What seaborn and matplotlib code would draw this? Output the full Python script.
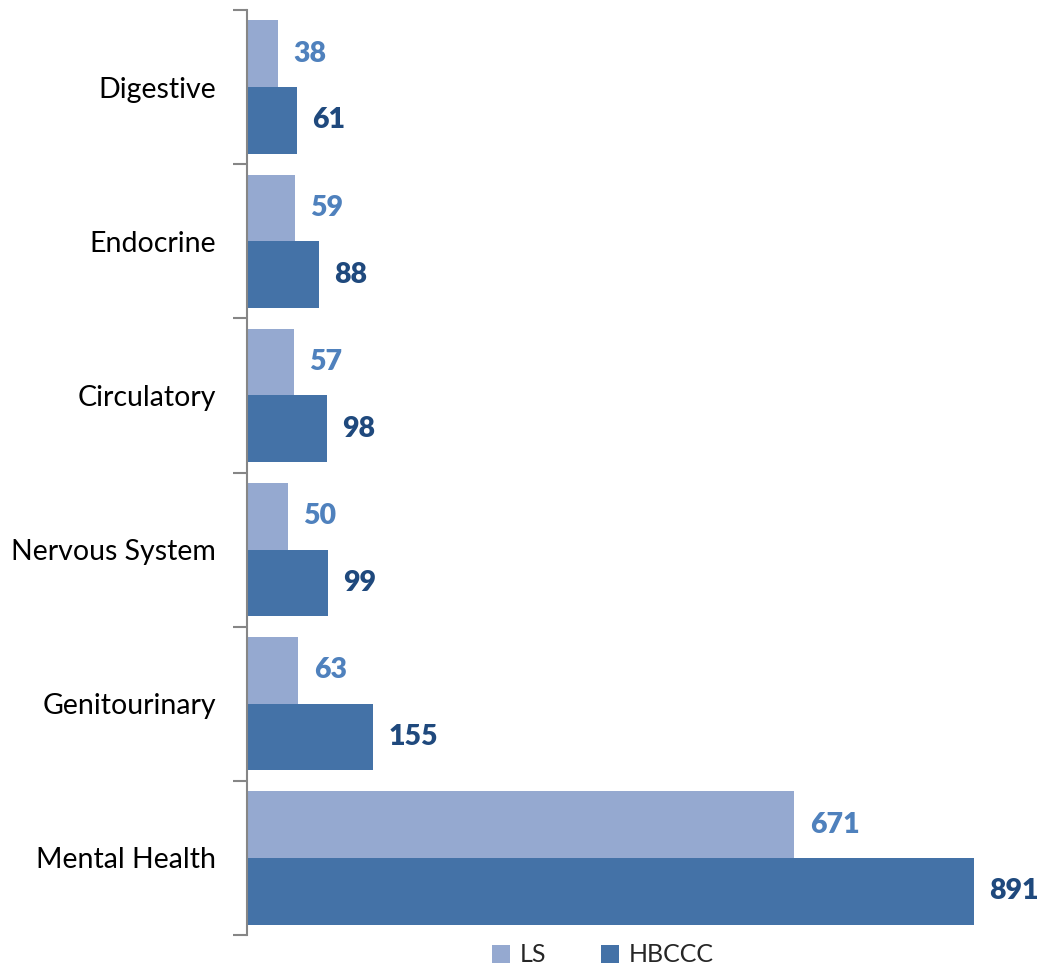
import matplotlib
matplotlib.use("Agg")
import matplotlib.pyplot as plt
import seaborn as sns
import pandas as pd
import numpy as np
from matplotlib.patches import Patch

categories = ["Digestive", "Endocrine", "Circulatory", "Nervous System", "Genitourinary", "Mental Health"]
series_names = ["LS", "HBCCC"]
ls_values = [38, 59, 57, 50, 63, 671]
hbccc_values = [61, 88, 98, 99, 155, 891]

bar_colors = {"LS": "#95A9D0", "HBCCC": "#4472A7"}
label_colors = {"LS": "#4F81BD", "HBCCC": "#1F497D"}

df = pd.DataFrame({
    "category": categories * 2,
    "series": ["LS"] * len(categories) + ["HBCCC"] * len(categories),
    "value": ls_values + hbccc_values,
})

sns.set_style("white")
plt.rcParams["font.family"] = ["Lato", "DejaVu Sans"]

fig = plt.figure(figsize=(10.42, 9.67), dpi=100)
ax = fig.add_axes([247 / 1042, 1 - 935 / 967, 790 / 1042, 925 / 967])

sns.barplot(data=df, y="category", x="value", hue="series", order=categories,
            hue_order=series_names, palette=bar_colors, orient="h", saturation=1,
            width=0.865, gap=0, linewidth=0, ax=ax, legend=False)

ax.set_xlim(0, 790 / (727 / 891))
ax.set_ylim(len(categories) - 0.5, -0.5)

for container, name in zip(ax.containers, series_names):
    ax.bar_label(container, labels=[f"{int(v)}" for v in container.datavalues],
                 padding=11, color=label_colors[name], fontsize=20.5, fontweight="heavy")

ax.set_xlabel("")
ax.set_ylabel("")
ax.set_xticks([])
for side in ["top", "right", "bottom"]:
    ax.spines[side].set_visible(False)
ax.spines["left"].set_color("#868686")
ax.spines["left"].set_linewidth(1.5)

ax.tick_params(axis="y", which="major", left=False, pad=19, labelsize=20.5, labelcolor="black")
ax.set_yticks(np.arange(-0.5, len(categories) + 0.5, 1), minor=True)
ax.tick_params(axis="y", which="minor", left=True, length=10, width=1.5,
               color="#868686", direction="out")

handles = [Patch(facecolor=bar_colors[n], edgecolor="none") for n in series_names]
fig.legend(handles, series_names, loc="center", bbox_to_anchor=(603 / 1042, 1 - 955 / 967),
           ncol=2, frameon=False, fontsize=18, handlelength=0.7, handleheight=0.7,
           handletextpad=0.4, columnspacing=2.2)

fig.savefig("out.png", dpi=100)
